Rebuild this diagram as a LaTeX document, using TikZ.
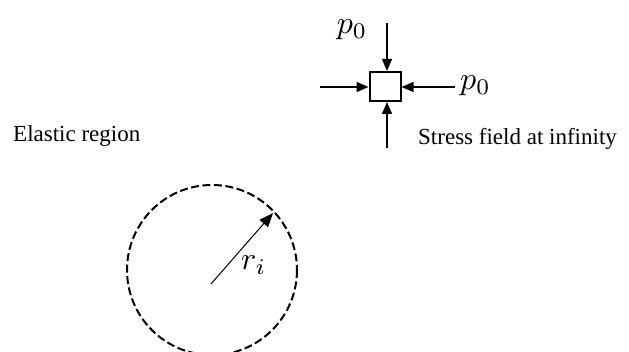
\documentclass[tikz,border=0pt]{standalone}
\usepackage{fontspec}
\usepackage{graphicx}
\setmainfont{Liberation Serif}
\usetikzlibrary{arrows.meta}
\newcommand{\bigmathlbl}[1]{\scalebox{3.2}{$#1$}}
\begin{document}
\begin{tikzpicture}[x=1pt,y=-1pt,
  lbl/.style={font=\fontsize{23}{26}\selectfont, inner sep=0pt},
  mlbl/.style={inner sep=0pt},
  load/.style={line width=1.3pt,-{Triangle[length=12pt,width=10pt]}},
  elem/.style={draw, line width=2pt, minimum width=31pt, minimum height=29pt, inner sep=0pt}]
\useasboundingbox (0,0) rectangle (629,352);
% stress element
\node[elem] (sq) at (385,86.5) {};
\coordinate (tA) at (387,23);
\coordinate (bA) at (387,148);
\coordinate (lA) at (320,87);
\coordinate (rA) at (455,87);
\draw[load] (tA) -- (sq.north -| tA);
\draw[load] (bA) -- (sq.south -| bA);
\draw[load] (lA) -- (sq.west |- lA);
\draw[load] (rA) -- (sq.east |- rA);
\node[mlbl] (p1) at (352,30) {\bigmathlbl{p_0}};
\node[mlbl, anchor=west] (p2) at (460,86) {\bigmathlbl{p_0}};
\node[lbl, anchor=base west] (sf) at (418,145) {Stress field at infinity};
\node[lbl, anchor=base west] (er) at (13,142) {Elastic region};
% circle
\coordinate (c) at (212,270);
\draw[line width=2pt, dash pattern=on 8pt off 3.5pt] (c) circle[radius=85];
\coordinate (ra) at (211,284);
\coordinate (rb) at (273,213);
\draw[line width=1pt,-{Triangle[length=14pt,width=11pt]}] (ra) -- (rb);
\node[mlbl, anchor=west] (ri) at (241,265) {\bigmathlbl{r_i}};
\end{tikzpicture}
\end{document}
